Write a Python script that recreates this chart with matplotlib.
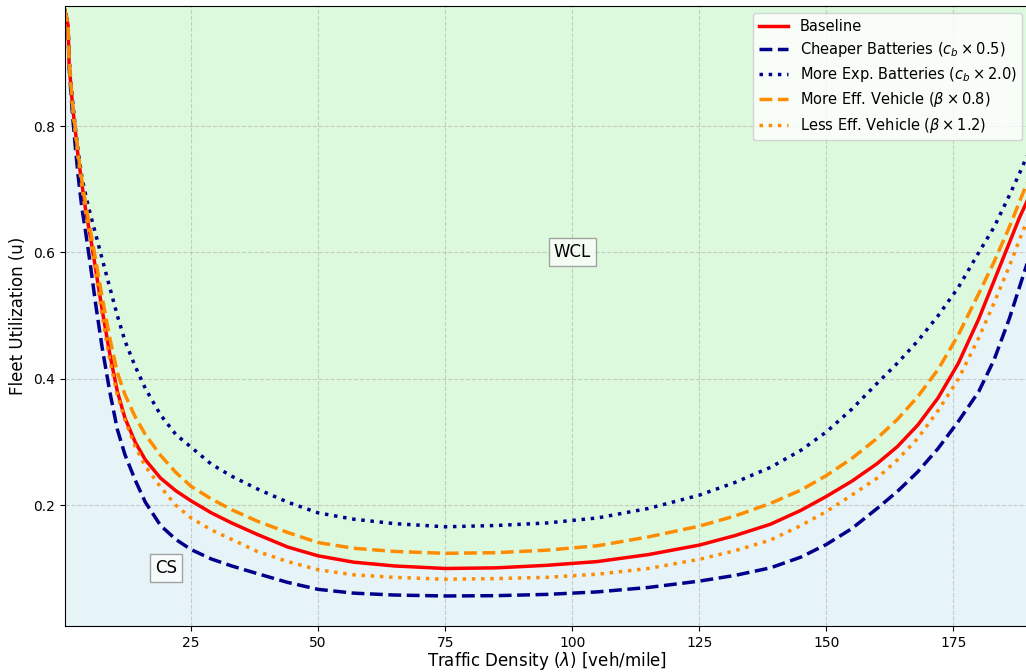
import matplotlib
matplotlib.use("Agg")
import matplotlib.pyplot as plt
import numpy as np

# Traffic density grid (veh/mile)
lam = [0.1, 0.4, 0.8, 1.0, 1.3, 1.7, 2.2, 2.8, 3.5, 4.3, 5.2, 6.2, 7.5, 9, 10.5, 12,
       14, 16, 19, 22, 25, 29, 33, 38, 44, 50, 57, 65, 75, 85, 95, 105, 115, 125,
       132, 139, 145, 150, 155, 160, 164, 168, 172, 176, 180, 183, 186, 188, 190]

baseline = [0.985, 0.975, 0.96, 0.90, 0.87, 0.83, 0.795, 0.75, 0.71, 0.665, 0.625,
            0.575, 0.51, 0.44, 0.38, 0.338, 0.30, 0.272, 0.243, 0.223, 0.207,
            0.188, 0.172, 0.154, 0.134, 0.120, 0.110, 0.104, 0.100, 0.101, 0.105,
            0.111, 0.122, 0.137, 0.152, 0.170, 0.192, 0.214, 0.238, 0.266, 0.293,
            0.327, 0.37, 0.425, 0.495, 0.555, 0.615, 0.655, 0.69]

cheaper_batt = [0.985, 0.975, 0.958, 0.895, 0.86, 0.815, 0.77, 0.72, 0.672, 0.63,
                0.58, 0.52, 0.45, 0.38, 0.32, 0.28, 0.24, 0.205, 0.168, 0.146,
                0.130, 0.115, 0.104, 0.092, 0.078, 0.067, 0.061, 0.058, 0.0565,
                0.057, 0.059, 0.063, 0.070, 0.080, 0.089, 0.101, 0.118, 0.138,
                0.163, 0.195, 0.222, 0.253, 0.290, 0.333, 0.38, 0.43, 0.495,
                0.545, 0.595]

exp_batt = [0.985, 0.975, 0.962, 0.91, 0.875, 0.84, 0.80, 0.76, 0.72, 0.69, 0.66,
            0.63, 0.59, 0.545, 0.50, 0.46, 0.42, 0.385, 0.343, 0.312, 0.292, 0.265,
            0.246, 0.226, 0.205, 0.188, 0.178, 0.171, 0.166, 0.168, 0.172, 0.180,
            0.195, 0.216, 0.236, 0.260, 0.287, 0.316, 0.352, 0.393, 0.425, 0.46,
            0.50, 0.545, 0.60, 0.64, 0.69, 0.725, 0.762]

more_eff = [0.985, 0.975, 0.96, 0.903, 0.872, 0.833, 0.797, 0.755, 0.715, 0.675,
            0.635, 0.59, 0.53, 0.465, 0.41, 0.375, 0.34, 0.312, 0.279, 0.252,
            0.230, 0.210, 0.193, 0.175, 0.157, 0.141, 0.132, 0.127, 0.124, 0.125,
            0.129, 0.136, 0.150, 0.167, 0.183, 0.203, 0.224, 0.247, 0.274, 0.306,
            0.336, 0.372, 0.415, 0.47, 0.535, 0.585, 0.64, 0.68, 0.72]

less_eff = [0.985, 0.975, 0.96, 0.90, 0.868, 0.828, 0.792, 0.748, 0.705, 0.66,
            0.62, 0.57, 0.50, 0.43, 0.375, 0.335, 0.293, 0.262, 0.229, 0.20, 0.180,
            0.161, 0.146, 0.127, 0.111, 0.098, 0.090, 0.086, 0.083, 0.084, 0.086,
            0.091, 0.100, 0.1145, 0.128, 0.145, 0.168, 0.190, 0.216, 0.243, 0.272,
            0.306, 0.35, 0.40, 0.465, 0.52, 0.578, 0.62, 0.66]

series = [
    ("Baseline", baseline, "red", "-"),
    (r"Cheaper Batteries ($c_b \times 0.5$)", cheaper_batt, "darkblue", "--"),
    (r"More Exp. Batteries ($c_b \times 2.0$)", exp_batt, "darkblue", ":"),
    (r"More Eff. Vehicle ($\beta \times 0.8$)", more_eff, "darkorange", "--"),
    (r"Less Eff. Vehicle ($\beta \times 1.2$)", less_eff, "darkorange", ":"),
]

W, H = 1026, 672
fig = plt.figure(figsize=(W / 100, H / 100), dpi=100)
left_px, right_px, top_px, bottom_px = 64.5, 1029.6, 6, 626
ax = fig.add_axes([left_px / W, (H - bottom_px) / H,
                   (right_px - left_px) / W, (bottom_px - top_px) / H])

lam_a = np.array(lam)
base_a = np.array(baseline)
ax.fill_between(lam_a, 0, base_a, color="lightblue", alpha=0.3, linewidth=0)
ax.fill_between(lam_a, base_a, 1.0, color="lightgreen", alpha=0.3, linewidth=0)

for label, vals, color, ls in series:
    ax.plot(lam, vals, color=color, linestyle=ls, linewidth=2.5, label=label,
            solid_joinstyle="round", dash_joinstyle="round")

ax.set_xlim(0.1, 190)
ax.set_ylim(0.009, 0.99)
ax.set_xticks([25, 50, 75, 100, 125, 150, 175])
ax.set_yticks([0.2, 0.4, 0.6, 0.8])
ax.grid(True, linestyle="--", alpha=0.6)

ax.set_xlabel(r"Traffic Density ($\lambda$) [veh/mile]", fontsize=12, labelpad=0.5)
ax.set_ylabel("Fleet Utilization (u)", fontsize=12)

box = dict(boxstyle="square,pad=0.3", facecolor="white", alpha=0.7, edgecolor="gray")
ax.text(100, 0.6, "WCL", fontsize=12, ha="center", va="center", bbox=box)
ax.text(20, 0.1, "CS", fontsize=12, ha="center", va="center", bbox=box)

ax.legend(loc="upper right", fontsize=10.5, labelspacing=0.42)

fig.savefig("out.png", dpi=100)
